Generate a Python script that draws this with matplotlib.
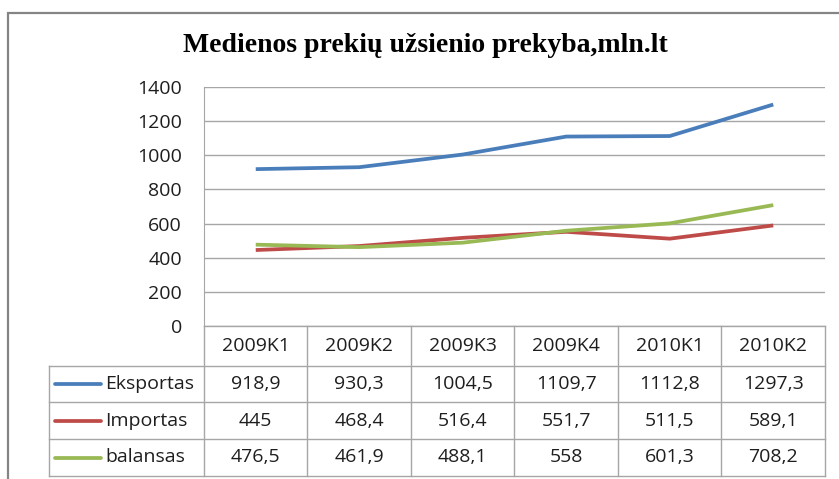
import matplotlib.pyplot as plt
from matplotlib.patches import Rectangle
from matplotlib.lines import Line2D

quarters = ['2009K1', '2009K2', '2009K3', '2009K4', '2010K1', '2010K2']
eksportas = [918.9, 930.3, 1004.5, 1109.7, 1112.8, 1297.3]
importas = [445, 468.4, 516.4, 551.7, 511.5, 589.1]
balansas = [476.5, 461.9, 488.1, 558, 601.3, 708.2]
names = ['Eksportas', 'Importas', 'balansas']
colors = ['#4a7ebb', '#be4b48', '#98b954']

W, H = 839, 479
fig = plt.figure(figsize=(W / 100, H / 100), dpi=100)
font = 'Open Sans'
txtc = '#1e1e1e'
gridc = '#a6a6a6'
fs = 14

# outer chart frame
fig.patches.append(Rectangle((8 / W, -0.1), 1.0, 1 - 13 / H + 0.1, transform=fig.transFigure,
                             fill=False, edgecolor='#858585', linewidth=1.6))

fig.text(425 / W, 1 - 45 / H, 'Medienos prekių užsienio prekyba,mln.lt',
         ha='center', va='center', family='Liberation Serif', weight='bold', fontsize=20)

# plot area
pl, pr, pt, pb = 204, 825, 87, 326
ax = fig.add_axes([pl / W, 1 - pb / H, (pr - pl) / W, (pb - pt) / H])
x = range(len(quarters))
for vals, c in zip([eksportas, importas, balansas], colors):
    ax.plot(x, vals, color=c, linewidth=2.7, solid_capstyle='butt')
ax.set_xlim(-0.5, len(quarters) - 0.5)
ax.set_ylim(0, 1400)
ax.set_yticks(range(0, 1401, 200))
ax.set_xticks([])
ax.yaxis.grid(True, color=gridc, linewidth=1)
ax.set_axisbelow(True)
for s in ['top', 'right', 'bottom']:
    ax.spines[s].set_visible(False)
ax.spines['left'].set_color(gridc)
ax.tick_params(axis='y', length=0, pad=16, labelsize=fs, labelcolor=txtc)
for lab in ax.get_yticklabels():
    lab.set_family(font)

# data table under the plot
colw = (pr - pl) / len(quarters)
tl, tb = 49, 476
left = -0.5 - (pl - tl) / colw
tax = fig.add_axes([tl / W, 1 - tb / H, (pr - tl) / W, (tb - pb) / H])
tax.set_xlim(left, len(quarters) - 0.5)
tax.set_ylim(tb - pb, 0)
tax.axis('off')
rows = [0, 40, 76, 113, 150]
n = len(quarters)
lkw = dict(color=gridc, linewidth=1, clip_on=False)
tax.plot([-0.5, n - 0.5], [rows[0], rows[0]], **lkw)
for r in rows[1:]:
    tax.plot([left, n - 0.5], [r, r], **lkw)
for i in range(n + 1):
    tax.plot([i - 0.5, i - 0.5], [rows[0], rows[-1]], **lkw)
tax.plot([left, left], [rows[1], rows[-1]], **lkw)

for i, q in enumerate(quarters):
    tax.text(i, (rows[0] + rows[1]) / 2, q, ha='center', va='center',
             family=font, fontsize=fs, color=txtc)
for j, (nm, vals, c) in enumerate(zip(names, [eksportas, importas, balansas], colors)):
    yc = (rows[j + 1] + rows[j + 2]) / 2
    for i, v in enumerate(vals):
        s = ('%g' % v).replace('.', ',')
        tax.text(i, yc, s, ha='center', va='center', family=font, fontsize=fs, color=txtc)
    tax.add_line(Line2D([left + 6 / colw, left + 52 / colw], [yc, yc], color=c,
                        linewidth=2.7, solid_capstyle='round', clip_on=False))
    tax.text(left + 56 / colw, yc, nm, ha='left', va='center', family=font,
             fontsize=fs, color=txtc)

fig.savefig('out.png', dpi=100)
